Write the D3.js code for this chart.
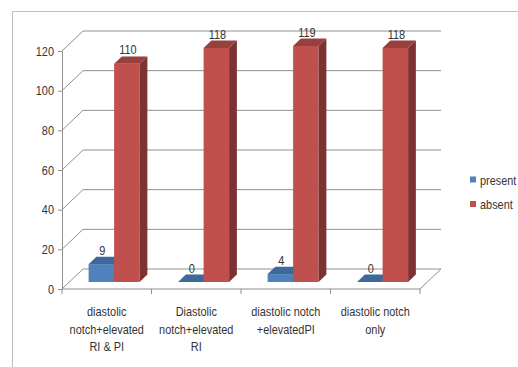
<!DOCTYPE html>
<html>
<head>
<meta charset="utf-8">
<script src="https://cdn.jsdelivr.net/npm/d3@7"></script>
<style>
  html, body { margin: 0; padding: 0; background: #fff; }
  svg { display: block; }
  text { font-family: "Liberation Sans", Arial, sans-serif; fill: #333; }
</style>
</head>
<body>
<svg id="chart" width="518" height="367"></svg>
<script>
// Doppler findings by category
const categories = [
  ["diastolic", "notch+elevated", "RI & PI"],
  ["Diastolic", "notch+elevated", "RI"],
  ["diastolic notch", "+elevatedPI"],
  ["diastolic notch", "only"]
];
const seriesNames = ["present", "absent"];
const present = [9, 0, 4, 0];
const absent = [110, 118, 119, 118];
const yTicks = [0, 20, 40, 60, 80, 100, 120];

const colors = {
  present: { front: "#4F81BD", top: "#3D6899", side: "#335A86" },
  absent:  { front: "#C0504D", top: "#97403D", side: "#7C3230" }
};

const FONT = 13, SQUEEZE = 0.84;

// condensed text: drawn in a group squeezed horizontally around its anchor
function label(parent, px, py, str, anchor) {
  return parent.append("text")
    .attr("transform", `translate(${px},${py}) scale(${SQUEEZE},1)`)
    .attr("text-anchor", anchor || "middle")
    .attr("font-size", FONT)
    .text(str);
}

const svg = d3.select("#chart");

// frame
svg.append("path")
  .attr("d", "M12.5,367 V11.5 H518")
  .attr("fill", "none").attr("stroke", "#bdbdbd").attr("stroke-width", 1);

// front plane scales
const x = d3.scaleBand().domain(d3.range(categories.length)).range([62, 420]);
const y = d3.scaleLinear().domain([0, 120]).range([289, 51]);

// full depth of the plot box (horizontal / vertical shift)
const DX = 21, DY = -20;
const proj = (px, v, d) => [px + d * DX, y(v) + d * DY];

const g = svg.append("g");
const grid = "#8f8f8f";

// back wall gridlines and left wall diagonals
yTicks.forEach(v => {
  const a = proj(x.range()[0], v, 0), b = proj(x.range()[0], v, 1), c = proj(x.range()[1], v, 1);
  g.append("path")
    .attr("d", `M${a[0]},${a[1]} L${b[0]},${b[1]} L${c[0]},${c[1]}`)
    .attr("fill", "none").attr("stroke", grid).attr("stroke-width", 1);
});

// floor: front edge and right diagonal
{
  const a = proj(x.range()[0], 0, 0), b = proj(x.range()[1], 0, 0), c = proj(x.range()[1], 0, 1);
  g.append("path")
    .attr("d", `M${a[0]},${a[1]} L${b[0]},${b[1]} L${c[0]},${c[1]}`)
    .attr("fill", "none").attr("stroke", grid).attr("stroke-width", 1);
}

// value axis (line and ticks from d3, labels condensed)
const yAxis = d3.axisLeft(y).tickValues(yTicks).tickSize(4).tickFormat("");
const ya = g.append("g").attr("transform", "translate(62,0)").call(yAxis);
ya.select(".domain").attr("stroke", grid);
ya.selectAll(".tick line").attr("stroke", grid);
yTicks.forEach(v => label(g, 54, y(v) + 4.5, v, "end"));

// category ticks
const catEdges = d3.range(categories.length + 1).map(i => x.range()[0] + i * x.step());
g.selectAll(".ctick").data(catEdges).join("line")
  .attr("x1", d => d).attr("x2", d => d)
  .attr("y1", y(0)).attr("y2", y(0) + 5)
  .attr("stroke", grid);

// category labels
categories.forEach((lines, i) => {
  const cx = x(i) + x.bandwidth() / 2;
  lines.forEach((ln, j) => label(g, cx, 316 + j * 17.5, ln));
});

// 3D columns
const barW = 25.5;
const d0 = 0.35, d1 = 0.72;
const poly = pts => "M" + pts.map(p => p.join(",")).join("L") + "Z";

const series = [
  { name: "present", values: present, offset: -1 },
  { name: "absent", values: absent, offset: 0 }
];

categories.forEach((_, i) => {
  const cx = x(i) + x.bandwidth() / 2;
  series.forEach(s => {
    const v = s.values[i];
    const c = colors[s.name];
    const xl = cx + s.offset * barW, xr = xl + barW;
    const fl0 = proj(xl, 0, d0), fr0 = proj(xr, 0, d0);
    const flv = proj(xl, v, d0), frv = proj(xr, v, d0);
    const blv = proj(xl, v, d1), brv = proj(xr, v, d1), br0 = proj(xr, 0, d1);
    if (v > 0) {
      g.append("path").attr("d", poly([fl0, fr0, frv, flv])).attr("fill", c.front);
      g.append("path").attr("d", poly([fr0, br0, brv, frv])).attr("fill", c.side);
    }
    g.append("path").attr("d", poly([flv, frv, brv, blv])).attr("fill", c.top);
    // value label above the column
    label(g, (xl + xr) / 2 + d0 * DX + 1, blv[1] - 2, v);
  });
});

// legend
const legend = svg.append("g");
seriesNames.forEach((n, i) => {
  const ly = 180 + i * 24.5;
  legend.append("rect").attr("x", 470).attr("y", ly - 3.5).attr("width", 6).attr("height", 6)
    .attr("fill", colors[n].front);
  label(legend, 480, ly + 4.5, n, "start");
});
</script>
</body>
</html>
